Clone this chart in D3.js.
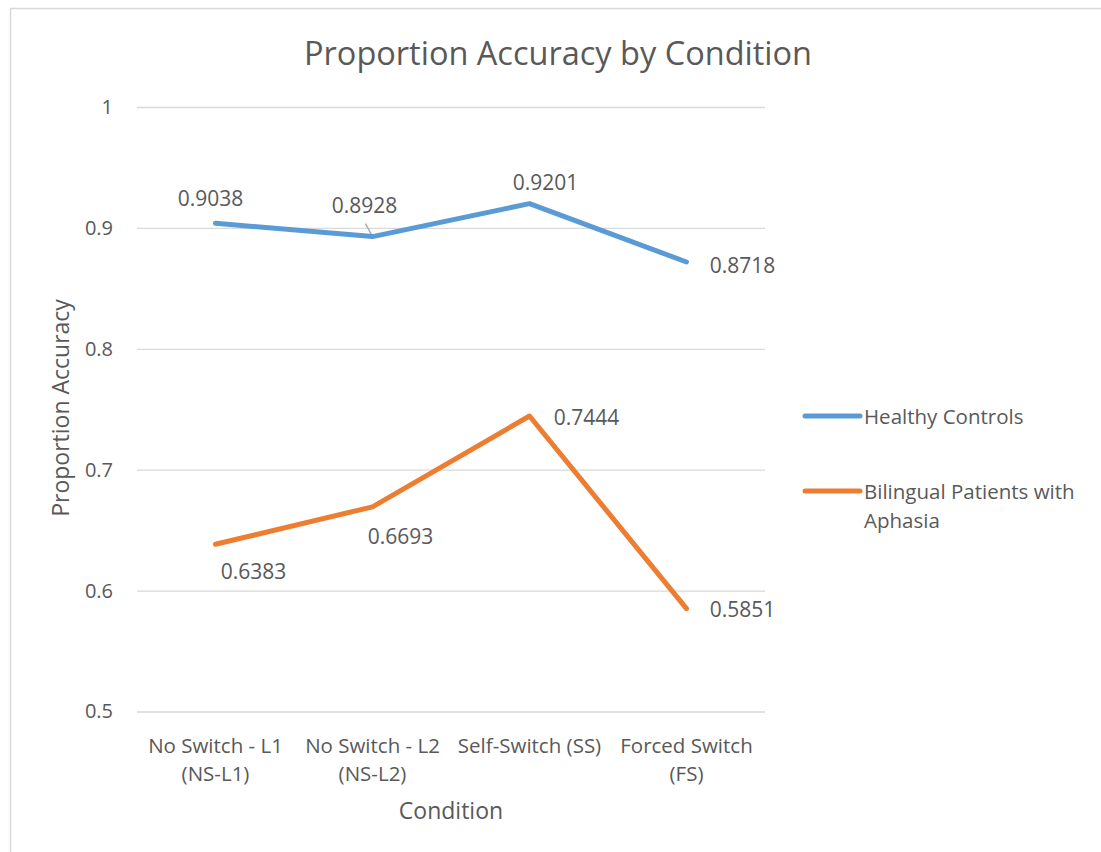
<!DOCTYPE html>
<html>
<head>
<meta charset="utf-8">
<script src="https://cdn.jsdelivr.net/npm/d3@7"></script>
<style>
  body { margin: 0; background: #fff; }
  text { font-family: "Open Sans", sans-serif; fill: #595959; }
</style>
</head>
<body>
<div class="container"></div>
<script>
var categories = [
  ["No Switch - L1", "(NS-L1)"],
  ["No Switch - L2", "(NS-L2)"],
  ["Self-Switch (SS)"],
  ["Forced Switch", "(FS)"]
];
var healthyControls = [0.9038, 0.8928, 0.9201, 0.8718];
var bilingualAphasia = [0.6383, 0.6693, 0.7444, 0.5851];
var yTicks = [0.5, 0.6, 0.7, 0.8, 0.9, 1];
var seriesNames = ["Healthy Controls", ["Bilingual Patients with", "Aphasia"]];

// where each data label sits relative to its point (dx, dy of label centre)
var healthyLabelPos = [[-5, -25], [-8, -32], [16, -22], [56, 3]];
var aphasiaLabelPos = [[38, 27], [28, 29], [57, 1], [56, 0]];

var width = 1101, height = 852;
var plot = {left: 137, right: 765, top: 107, bottom: 711.5};

var svg = d3.select(".container")
    .append("svg")
    .attr("width", width)
    .attr("height", height);

// chart frame (right and bottom edges fall outside the picture)
svg.append("rect")
    .attr("x", 10.5).attr("y", 8.5)
    .attr("width", 1200).attr("height", 1000)
    .attr("fill", "none")
    .attr("stroke", "#d9d9d9")
    .attr("stroke-width", 1.5);

var x = d3.scaleBand()
    .domain(d3.range(categories.length))
    .range([plot.left, plot.right]);

var y = d3.scaleLinear()
    .domain([0.5, 1])
    .range([plot.bottom, plot.top]);

// gridlines + y tick labels
var yAxis = svg.append("g")
    .attr("transform", "translate(" + plot.left + ",0)")
    .call(d3.axisLeft(y)
      .tickValues(yTicks)
      .tickSize(-(plot.right - plot.left))
      .tickPadding(24)
      .tickFormat(d3.format("")));
yAxis.select(".domain").remove();
yAxis.selectAll(".tick line").attr("stroke", "#d9d9d9").attr("stroke-width", 1.3);
yAxis.selectAll(".tick text")
    .style("font-family", "'Open Sans', sans-serif")
    .style("font-size", "20px")
    .attr("fill", "#595959");

// category labels
var xAxis = svg.append("g")
    .attr("transform", "translate(0," + plot.bottom + ")")
    .call(d3.axisBottom(x).tickSize(0).tickFormat(""));
xAxis.select(".domain").remove();
xAxis.selectAll(".tick").each(function(d) {
  var t = d3.select(this).append("text")
      .attr("text-anchor", "middle")
      .style("font-size", "20.5px")
      .attr("y", 41);
  categories[d].forEach(function(line, i) {
    t.append("tspan").attr("x", 0).attr("dy", i === 0 ? 0 : 28).text(line);
  });
});

var line = d3.line()
    .x(function(d, i) { return x(i) + x.bandwidth() / 2; })
    .y(function(d) { return y(d); });

var series = [
  {values: healthyControls, color: "#5b9bd5", pos: healthyLabelPos},
  {values: bilingualAphasia, color: "#ed7d31", pos: aphasiaLabelPos}
];

// leader line for the crowded label
svg.append("line")
    .attr("x1", x(1) + x.bandwidth() / 2 - 7)
    .attr("y1", y(healthyControls[1]) - 13)
    .attr("x2", x(1) + x.bandwidth() / 2)
    .attr("y2", y(healthyControls[1]))
    .attr("stroke", "#a6a6a6")
    .attr("stroke-width", 1.3);

series.forEach(function(s) {
  svg.append("path")
      .datum(s.values)
      .attr("d", line)
      .attr("fill", "none")
      .attr("stroke", s.color)
      .attr("stroke-width", 5)
      .attr("stroke-linejoin", "round")
      .attr("stroke-linecap", "round");

  svg.selectAll(null)
      .data(s.values)
      .enter().append("text")
      .attr("x", function(d, i) { return x(i) + x.bandwidth() / 2 + s.pos[i][0]; })
      .attr("y", function(d, i) { return y(d) + s.pos[i][1]; })
      .attr("text-anchor", "middle")
      .attr("dominant-baseline", "central")
      .style("font-size", "21px")
      .text(function(d) { return d3.format(".4f")(d); });
});

// title
svg.append("text")
    .attr("x", 558).attr("y", 65)
    .attr("text-anchor", "middle")
    .style("font-size", "32.5px")
    .text("Proportion Accuracy by Condition");

// axis titles
svg.append("text")
    .attr("x", 451).attr("y", 819)
    .attr("text-anchor", "middle")
    .style("font-size", "23px")
    .text("Condition");

svg.append("text")
    .attr("transform", "translate(69,408) rotate(-90)")
    .attr("text-anchor", "middle")
    .style("font-size", "23px")
    .text("Proportion Accuracy");

// legend
var legend = svg.append("g").attr("transform", "translate(805,0)");
var legendY = [416, 491];
series.forEach(function(s, i) {
  legend.append("line")
      .attr("x1", 0).attr("x2", 55)
      .attr("y1", legendY[i]).attr("y2", legendY[i])
      .attr("stroke", s.color)
      .attr("stroke-width", 5)
      .attr("stroke-linecap", "round");
  var t = legend.append("text")
      .attr("x", 59).attr("y", legendY[i])
      .attr("dominant-baseline", "central")
      .style("font-size", "20.5px");
  [].concat(seriesNames[i]).forEach(function(ln, j) {
    t.append("tspan").attr("x", 59).attr("dy", j === 0 ? 0 : 29).text(ln);
  });
});
</script>
</body>
</html>
